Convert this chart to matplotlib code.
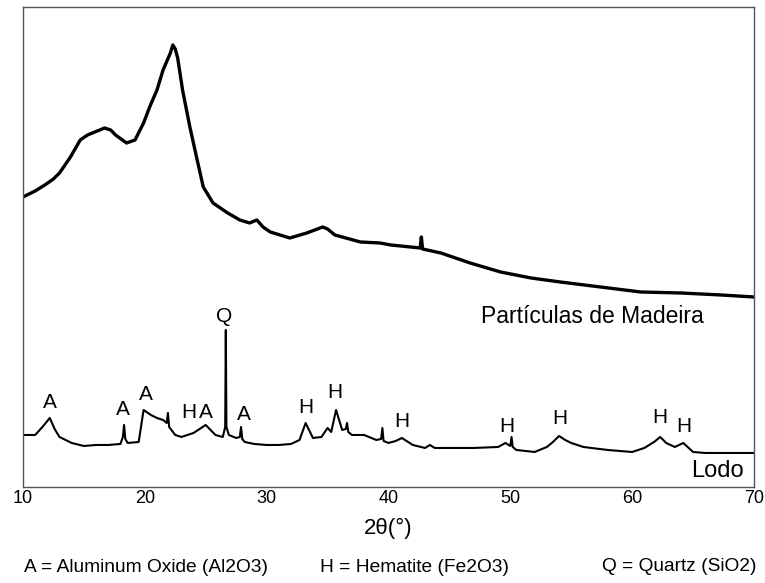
import matplotlib.pyplot as plt

# Diffractogram traces (2theta in degrees, intensity in arbitrary units)
wood_2theta = [10.0, 10.5, 11.0, 11.8, 12.5, 13.0, 13.9, 14.7, 15.3, 15.9, 16.7, 17.2,
               17.6, 18.5, 19.2, 19.9, 20.4, 21.0, 21.5, 22.1, 22.3, 22.5, 22.7, 23.1,
               23.7, 24.3, 24.8, 25.6, 26.8, 27.8, 28.6, 29.2, 29.7, 30.3, 31.9, 33.3,
               34.6, 35.0, 35.6, 37.7, 39.3, 40.2, 41.8, 42.6, 42.7, 42.8, 44.3, 46.7,
               49.2, 51.7, 54.1, 57.4, 60.7, 64.0, 67.3, 70.0]
wood_counts = [290, 293, 296, 302, 308, 314, 330, 347, 352, 355, 359, 357,
               352, 344, 347, 364, 380, 397, 417, 434, 442, 438, 429, 397,
               360, 327, 300, 284, 274, 267, 264, 267, 260, 255, 249, 254,
               260, 258, 252, 245, 244, 242, 240, 239, 250, 238, 234, 224,
               215, 209, 205, 200, 195, 194, 192, 190]

sludge_2theta = [10.0, 11.0, 11.6, 12.2, 12.6, 13.0, 14.0, 15.0, 16.0, 17.0, 18.0, 18.2,
                 18.3, 18.4, 18.6, 19.5, 19.9, 20.5, 21.0, 21.5, 21.8, 21.9, 22.0, 22.5,
                 23.0, 24.0, 25.0, 25.8, 26.4, 26.6, 26.65, 26.7, 26.9, 27.5, 27.8, 27.9,
                 28.0, 28.2, 29.0, 30.0, 31.0, 32.0, 32.7, 33.2, 33.8, 34.5, 35.0, 35.3,
                 35.7, 36.2, 36.5, 36.6, 36.7, 37.0, 38.0, 39.0, 39.4, 39.5, 39.6, 40.0,
                 40.6, 41.1, 42.0, 43.0, 43.4, 43.8, 45.0, 47.0, 49.0, 49.6, 50.0, 50.1,
                 50.2, 50.5, 52.0, 53.0, 53.5, 54.0, 54.5, 55.0, 56.0, 58.0, 60.0, 61.0,
                 61.8, 62.3, 62.8, 63.5, 64.2, 65.0, 66.0, 68.0, 70.0]
sludge_counts = [52, 52, 60, 69, 58, 50, 44, 41, 42, 42, 43, 50,
                 62, 48, 44, 45, 77, 72, 69, 67, 64, 74, 60, 52,
                 50, 54, 62, 52, 50, 60, 157, 60, 52, 49, 50, 60,
                 48, 45, 43, 42, 42, 43, 47, 64, 49, 50, 59, 55,
                 77, 57, 58, 64, 55, 52, 52, 47, 48, 59, 46, 44,
                 46, 49, 42, 39, 42, 39, 39, 39, 40, 44, 41, 50,
                 40, 37, 35, 40, 45, 51, 47, 44, 40, 37, 35, 39,
                 45, 50, 44, 40, 44, 35, 34, 34, 34]

# Phase labels above the sludge peaks
peak_labels = ["A", "A", "A", "H", "A", "Q", "A", "H", "H", "H", "H", "H", "H", "H"]
label_x = [12.2, 18.2, 20.1, 23.6, 25.0, 26.5, 28.1, 33.25, 35.6, 41.1, 49.7, 54.1, 62.3, 64.2]
label_y = [84, 77, 92, 74, 74, 170, 72, 79, 94, 65, 60, 68, 69, 60]

x_ticks = [10, 20, 30, 40, 50, 60, 70]

plt.rcParams['font.family'] = ['Liberation Sans', 'DejaVu Sans']

fig = plt.figure(figsize=(7.65, 5.83), dpi=100)
ax = fig.add_axes([0.030, 0.1647, 0.9556, 0.8233])

ax.plot(wood_2theta, wood_counts, color="black", linewidth=2.4)
ax.plot(sludge_2theta, sludge_counts, color="black", linewidth=1.5)

for lab, x, y in zip(peak_labels, label_x, label_y):
    ax.text(x, y, lab, fontsize=15, ha="center", va="center")

ax.text(56.75, 170, "Partículas de Madeira", fontsize=16.5, ha="center", va="center")
ax.text(67.0, 16, "Lodo", fontsize=17, ha="center", va="center")

ax.set_xlim(10, 70)
ax.set_ylim(0, 480)
ax.set_xticks(x_ticks)
ax.set_xticklabels([str(t) for t in x_ticks], fontsize=13)
ax.tick_params(axis="x", length=0, pad=2)
ax.set_yticks([])
for sp in ax.spines.values():
    sp.set_color("#555555")
    sp.set_linewidth(1.0)

fig.text(0.507, 0.094, "2θ(°)", fontsize=16, ha="center", va="center")

fig.text(0.031, 0.026, "A = Aluminum Oxide (Al2O3)", fontsize=13.8, ha="left", va="center")
fig.text(0.418, 0.026, "H = Hematite (Fe2O3)", fontsize=13.8, ha="left", va="center")
fig.text(0.989, 0.029, "Q = Quartz (SiO2)", fontsize=13.8, ha="right", va="center")

plt.savefig("out.png", dpi=100)
